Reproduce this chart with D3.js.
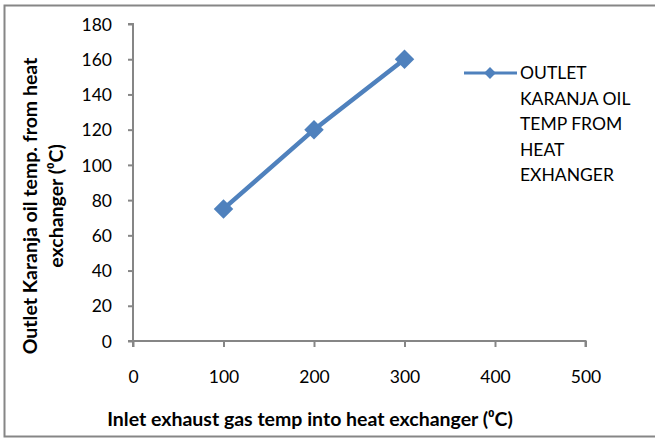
<!DOCTYPE html>
<html><head><meta charset="utf-8">
<script src="https://cdn.jsdelivr.net/npm/d3@7"></script>
<style>body{margin:0;background:#fff}svg{display:block}</style>
</head><body>
<script>
const xValues = [100, 200, 300];
const yValues = [75, 120, 160];
const xTicks = [0, 100, 200, 300, 400, 500];
const yTicks = [0, 20, 40, 60, 80, 100, 120, 140, 160, 180];
const seriesName = ["OUTLET", "KARANJA OIL", "TEMP FROM", "HEAT", "EXHANGER"];
const xTitle = "Inlet exhaust gas temp into heat exchanger (⁰C)";
const yTitle = ["Outlet Karanja oil temp. from heat", "exchanger (⁰C)"];

const W = 655, H = 439;
const font = "Lato, 'Open Sans', sans-serif";
const col = "#4F81BD";
const svg = d3.select("body").append("svg").attr("width", W).attr("height", H);
svg.append("rect").attr("x", 4.5).attr("y", 5.5).attr("width", 660).attr("height", 431)
  .attr("fill", "#fff").attr("stroke", "#868686").attr("stroke-width", 2);

const x = d3.scaleLinear().domain([0, 500]).range([133, 585.5]);
const y = d3.scaleLinear().domain([0, 180]).range([341, 24]);

const gx = svg.append("g").attr("transform", "translate(0,341)")
  .call(d3.axisBottom(x).tickValues(xTicks).tickSize(6));
const gy = svg.append("g").attr("transform", "translate(133,0)")
  .call(d3.axisLeft(y).tickValues(yTicks).tickSize(5));
[gx, gy].forEach(g => {
  g.selectAll("path,line").attr("stroke", "#868686").attr("stroke-width", 2);
  g.selectAll("text").attr("font-family", font).attr("font-size", 17.5).attr("fill", "#000");
});
gx.selectAll("text").attr("y", 36).attr("dy", "0.35em");
gy.selectAll("text").attr("x", -21).attr("dy", "0.35em");
gx.select(".domain").attr("d", "M133,6V0H585.5V6");
gy.select(".domain").attr("d", "M-5,24H0V341H-5");

const pts = xValues.map((v, i) => [x(v), y(yValues[i])]);
svg.append("path").attr("d", d3.line()(pts)).attr("fill", "none")
  .attr("stroke", col).attr("stroke-width", 4.5);
svg.selectAll(".m").data(pts).join("path")
  .attr("d", d3.symbol(d3.symbolSquare, 190)())
  .attr("transform", d => `translate(${d[0]},${d[1]}) rotate(45)`)
  .attr("fill", col);

// legend
svg.append("line").attr("x1", 464).attr("x2", 517).attr("y1", 73).attr("y2", 73)
  .attr("stroke", col).attr("stroke-width", 3);
svg.append("path").attr("d", d3.symbol(d3.symbolSquare, 70)())
  .attr("transform", "translate(490,73) rotate(45)").attr("fill", col);
svg.append("g").selectAll("text").data(seriesName).join("text")
  .attr("x", 520).attr("y", (d, i) => 73 + i * 25.5).attr("dy", "0.35em")
  .attr("font-family", font).attr("font-size", 17.5).attr("fill", "#000").text(d => d);

// titles
svg.append("text").attr("x", 310).attr("y", 419).attr("dy", "0.35em").attr("text-anchor", "middle")
  .attr("font-family", font).attr("font-size", 19.5).attr("font-weight", "bold").text(xTitle);
svg.append("g").selectAll("text").data(yTitle).join("text")
  .attr("transform", (d, i) => `translate(${30 + i * 26},206) rotate(-90)`)
  .attr("dy", "0.35em").attr("text-anchor", "middle")
  .attr("font-family", font).attr("font-size", 19.5).attr("font-weight", "bold").text(d => d);
</script>
</body></html>
